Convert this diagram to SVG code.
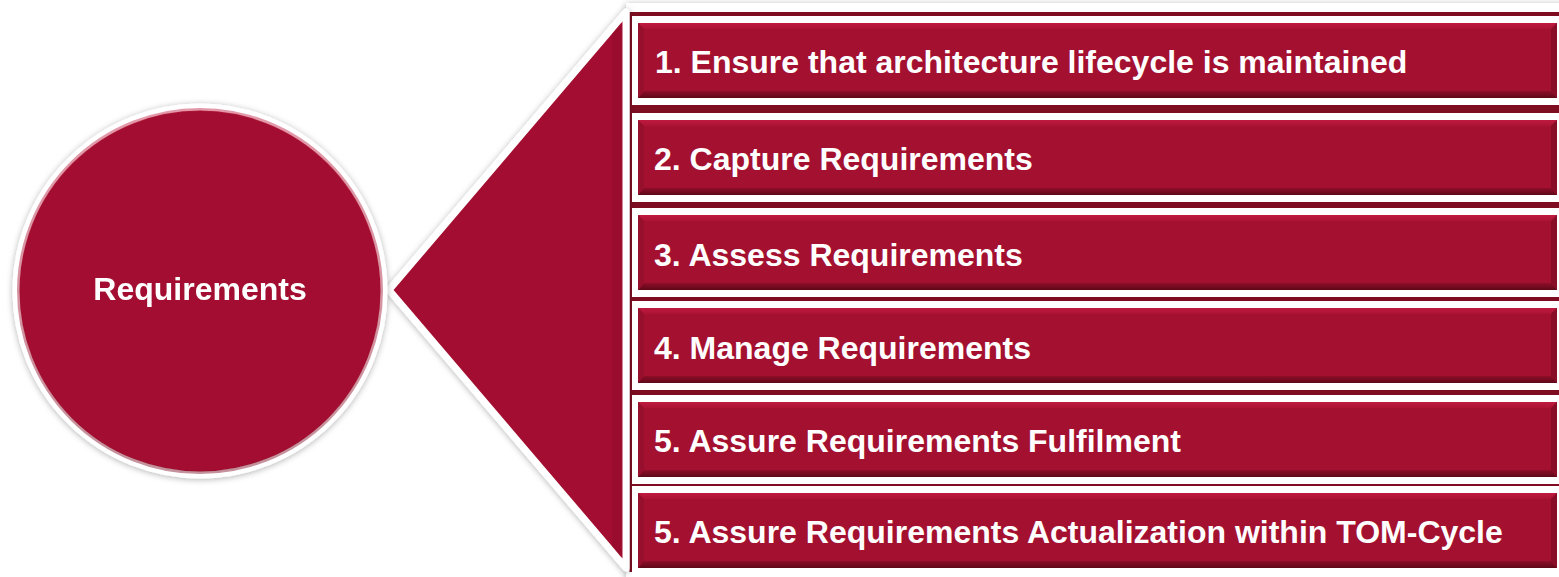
<svg xmlns="http://www.w3.org/2000/svg" xmlns:xlink="http://www.w3.org/1999/xlink" width="1559" height="577" viewBox="0 0 1559 577">
<style>
.lbl{font-family:"Liberation Sans",Arial,sans-serif;font-weight:bold;font-size:32px;fill:#ffffff}
.red{fill:#a41130}
.wht{fill:#ffffff}
</style>
<defs>
<filter id="shadow" x="-10%" y="-10%" width="120%" height="120%">
<feDropShadow dx="0" dy="1" stdDeviation="3" flood-color="#000" flood-opacity="0.3"/>
</filter>
<linearGradient id="rimGrad" x1="0" y1="0" x2="0" y2="1">
<stop offset="0" stop-color="#c21d44"/>
<stop offset="0.5" stop-color="#a41130"/>
<stop offset="1" stop-color="#7a0b22"/>
</linearGradient>
<linearGradient id="topBev" x1="0" y1="0" x2="0" y2="1">
<stop offset="0" stop-color="#bf1a3f"/>
<stop offset="1" stop-color="#ab1334"/>
</linearGradient>
<linearGradient id="botBev" x1="0" y1="0" x2="0" y2="1">
<stop offset="0" stop-color="#8e0e29"/>
<stop offset="1" stop-color="#5e0818"/>
</linearGradient>
<g id="box">
<rect x="632" y="-7" width="935" height="89" class="wht"/>
<rect x="638" y="0" width="919" height="75" class="red"/>
<polygon points="638,0 1557,0 1551,6 644,6" fill="url(#topBev)"/>
<polygon points="638,75 1557,75 1551,68 644,68" fill="url(#botBev)"/>
<polygon points="638,0 644,6 644,68 638,75" fill="#960f2c"/>
<polygon points="1557,0 1557,75 1551,68 1551,6" fill="#880d27"/>
</g>
</defs>
<rect width="1559" height="577" fill="#ffffff"/>
<g id="panel" filter="url(#shadow)">
<rect x="626" y="3" width="940" height="580" class="wht"/>
<rect x="629.5" y="12" width="935" height="560" fill="#7e0b23"/>
</g>
<g id="connectors">
<polygon points="389,290 626,12 626,568" class="red" stroke="#ffffff" stroke-width="7" stroke-linejoin="round" filter="url(#shadow)"/>
<polygon points="612,34 621,23 621,557 612,546" fill="#8a0d27" opacity="0.4"/>
</g>
<g id="requirements" filter="url(#shadow)">
<circle cx="200" cy="291" r="184" class="red" stroke="#ffffff" stroke-width="7"/>
<circle cx="200" cy="291" r="181.5" fill="none" stroke="url(#rimGrad)" stroke-width="3" opacity="0.45"/>
<text class="lbl" x="200" y="300" text-anchor="middle">Requirements</text>
</g>
<g id="step1" transform="translate(0,23)">
<use xlink:href="#box" href="#box"/>
<text class="lbl" x="655" y="50">1. Ensure that architecture lifecycle is maintained</text>
</g>
<g id="step2" transform="translate(0,120)">
<use xlink:href="#box" href="#box"/>
<text class="lbl" x="654" y="50">2. Capture Requirements</text>
</g>
<g id="step3" transform="translate(0,215)">
<use xlink:href="#box" href="#box"/>
<text class="lbl" x="654" y="51">3. Assess Requirements</text>
</g>
<g id="step4" transform="translate(0,308)">
<use xlink:href="#box" href="#box"/>
<text class="lbl" x="654" y="51">4. Manage Requirements</text>
</g>
<g id="step5" transform="translate(0,402)">
<use xlink:href="#box" href="#box"/>
<text class="lbl" x="654" y="50">5. Assure Requirements Fulfilment</text>
</g>
<g id="step6" transform="translate(0,493)">
<use xlink:href="#box" href="#box"/>
<text class="lbl" x="654" y="50">5. Assure Requirements Actualization within TOM-Cycle</text>
</g>
</svg>
